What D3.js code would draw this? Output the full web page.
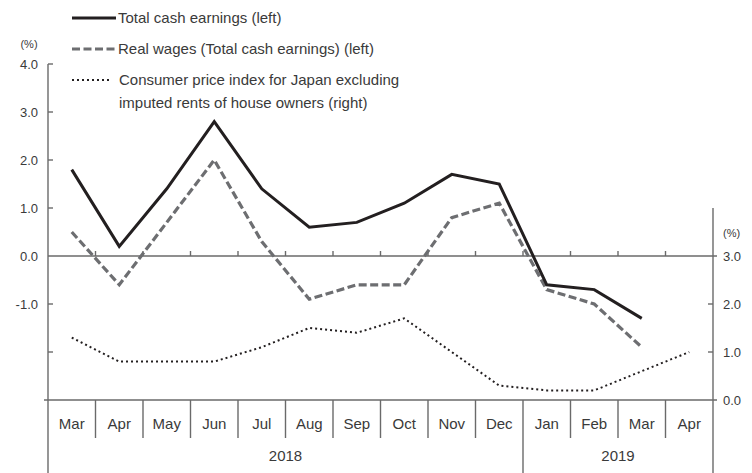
<!DOCTYPE html>
<html>
<head>
<meta charset="utf-8">
<script src="https://cdn.jsdelivr.net/npm/d3@7"></script>
<style>
  html, body { margin: 0; padding: 0; background: #fff; }
  svg { display: block; font-family: "Liberation Sans", Arial, sans-serif; }
</style>
</head>
<body>
<svg id="chart" width="752" height="473"></svg>
<script>
// ---- Data ----
const months = ["Mar","Apr","May","Jun","Jul","Aug","Sep","Oct","Nov","Dec","Jan","Feb","Mar","Apr"];
const yearLabels = ["2018", "2019"];
const yearStart = [0, 10];
const yearEnd = [10, 14];
const totalCash = [1.8, 0.2, 1.4, 2.8, 1.4, 0.6, 0.7, 1.1, 1.7, 1.5, -0.6, -0.7, -1.3, null];
const realWages = [0.5, -0.6, 0.7, 2.0, 0.3, -0.9, -0.6, -0.6, 0.8, 1.1, -0.7, -1.0, -1.9, null];
const cpi = [1.3, 0.8, 0.8, 0.8, 1.1, 1.5, 1.4, 1.7, 1.0, 0.3, 0.2, 0.2, 0.6, 1.0];
const leftTicks = [4, 3, 2, 1, 0, -1, -2];
const leftTickLabels = ["4.0", "3.0", "2.0", "1.0", "0.0", "-1.0", ""];
const rightTicks = [3, 2, 1, 0];
const rightTickLabels = ["3.0", "2.0", "1.0", "0.0"];
const legendLabels = [
  ["Total cash earnings (left)"],
  ["Real wages (Total cash earnings) (left)"],
  ["Consumer price index for Japan excluding", "imputed rents of house owners (right)"]
];

// ---- Layout ----
const svg = d3.select("#chart");
const L = 48, R = 713, T = 64, B = 400;
const axisColor = "#6a6a6a";
const textColor = "#3a3a3a";

const idx = months.map((d, i) => i);
const x = d3.scaleBand().domain(idx).range([L, R]);
const yL = d3.scaleLinear().domain([-3, 4]).range([B, T]);
const yR = d3.scaleLinear().domain([0, 4]).range([B, yL(1)]);

const styles = [
  { stroke: "#231f20", width: 3, dash: null },
  { stroke: "#6d6e71", width: 3.2, dash: "8,3.5" },
  { stroke: "#231f20", width: 2, dash: "2,3" }
];

const g = svg.append("g");

// Left axis line
g.append("line").attr("x1", L).attr("x2", L).attr("y1", yL(4)).attr("y2", 473)
  .attr("stroke", axisColor).attr("stroke-width", 1.4);
// Right axis line
g.append("line").attr("x1", R).attr("x2", R).attr("y1", yR(4)).attr("y2", 473)
  .attr("stroke", axisColor).attr("stroke-width", 1.4);

// Left ticks (inward)
g.selectAll(".lt").data(leftTicks.filter(v => v !== 0)).enter().append("line")
  .attr("x1", L).attr("x2", L + 5).attr("y1", d => yL(d)).attr("y2", d => yL(d))
  .attr("stroke", axisColor).attr("stroke-width", 1.4);
g.selectAll(".ltl").data(leftTicks).enter().append("text")
  .attr("x", L - 10).attr("y", d => yL(d)).attr("dy", "0.35em")
  .attr("text-anchor", "end").attr("font-size", 13).attr("fill", textColor)
  .text((d, i) => leftTickLabels[i]);
g.append("text").attr("x", 29).attr("y", 44).attr("dy", "0.35em")
  .attr("text-anchor", "middle").attr("font-size", 11).attr("fill", textColor).text("(%)");

// Right ticks (inward)
g.selectAll(".rt").data(rightTicks.filter(v => v !== 0 && v !== 3)).enter().append("line")
  .attr("x1", R - 5).attr("x2", R).attr("y1", d => yR(d)).attr("y2", d => yR(d))
  .attr("stroke", axisColor).attr("stroke-width", 1.4);
g.selectAll(".rtl").data(rightTicks).enter().append("text")
  .attr("x", R + 10).attr("y", d => yR(d)).attr("dy", "0.35em")
  .attr("text-anchor", "start").attr("font-size", 13).attr("fill", textColor)
  .text((d, i) => rightTickLabels[i]);
g.append("text").attr("x", R + 10).attr("y", yR(3) - 23).attr("dy", "0.35em")
  .attr("text-anchor", "start").attr("font-size", 11).attr("fill", textColor).text("(%)");

// Zero line with small upward ticks
g.append("line").attr("x1", L).attr("x2", R + 4).attr("y1", yL(0)).attr("y2", yL(0))
  .attr("stroke", axisColor).attr("stroke-width", 1.4);
g.selectAll(".zt").data(idx.slice(1)).enter().append("line")
  .attr("x1", d => x(d)).attr("x2", d => x(d))
  .attr("y1", yL(0)).attr("y2", yL(0) - 5)
  .attr("stroke", axisColor).attr("stroke-width", 1.4);

// Bottom line
g.append("line").attr("x1", L - 4).attr("x2", R + 4).attr("y1", B).attr("y2", B)
  .attr("stroke", axisColor).attr("stroke-width", 1.4);

// Category separators
g.selectAll(".sep").data(idx.slice(1)).enter().append("line")
  .attr("x1", d => x(d)).attr("x2", d => x(d))
  .attr("y1", B).attr("y2", d => yearStart.includes(d) ? 473 : 438)
  .attr("stroke", axisColor).attr("stroke-width", 1.4);

// Month labels
g.selectAll(".ml").data(idx).enter().append("text")
  .attr("x", d => x(d) + x.bandwidth() / 2).attr("y", 424).attr("dy", "0.35em")
  .attr("text-anchor", "middle").attr("font-size", 15).attr("fill", textColor)
  .text(d => months[d]);

// Year labels
g.selectAll(".yl").data(yearLabels).enter().append("text")
  .attr("x", (d, i) => (x(yearStart[i]) + (yearEnd[i] < months.length ? x(yearEnd[i]) : R)) / 2)
  .attr("y", 456).attr("dy", "0.35em")
  .attr("text-anchor", "middle").attr("font-size", 15).attr("fill", textColor)
  .text(d => d);

// Series lines
const cx = i => x(i) + x.bandwidth() / 2;
const lineL = d3.line().defined(d => d[1] !== null).x(d => cx(d[0])).y(d => yL(d[1]));
const lineR = d3.line().defined(d => d[1] !== null).x(d => cx(d[0])).y(d => yR(d[1]));

function drawSeries(vals, gen, st) {
  const p = g.append("path").datum(vals.map((v, i) => [i, v]))
    .attr("d", gen).attr("fill", "none")
    .attr("stroke", st.stroke).attr("stroke-width", st.width)
    .attr("stroke-linejoin", "miter");
  if (st.dash) p.attr("stroke-dasharray", st.dash);
}
drawSeries(cpi, lineR, styles[2]);
drawSeries(realWages, lineL, styles[1]);
drawSeries(totalCash, lineL, styles[0]);

// Legend
const legendY = [18, 49, 80];
const legendLen = [44, 44, 38];
legendLabels.forEach((lines, i) => {
  const st = styles[i];
  const ln = g.append("line").attr("x1", 72).attr("x2", 72 + legendLen[i])
    .attr("y1", legendY[i]).attr("y2", legendY[i])
    .attr("stroke", st.stroke).attr("stroke-width", st.width);
  if (st.dash) ln.attr("stroke-dasharray", st.dash);
  lines.forEach((t, j) => {
    g.append("text").attr("x", i === 2 ? 119 : 118).attr("y", legendY[i] + j * 23).attr("dy", "0.35em")
      .attr("font-size", 15).attr("fill", textColor).text(t);
  });
});
</script>
</body>
</html>
